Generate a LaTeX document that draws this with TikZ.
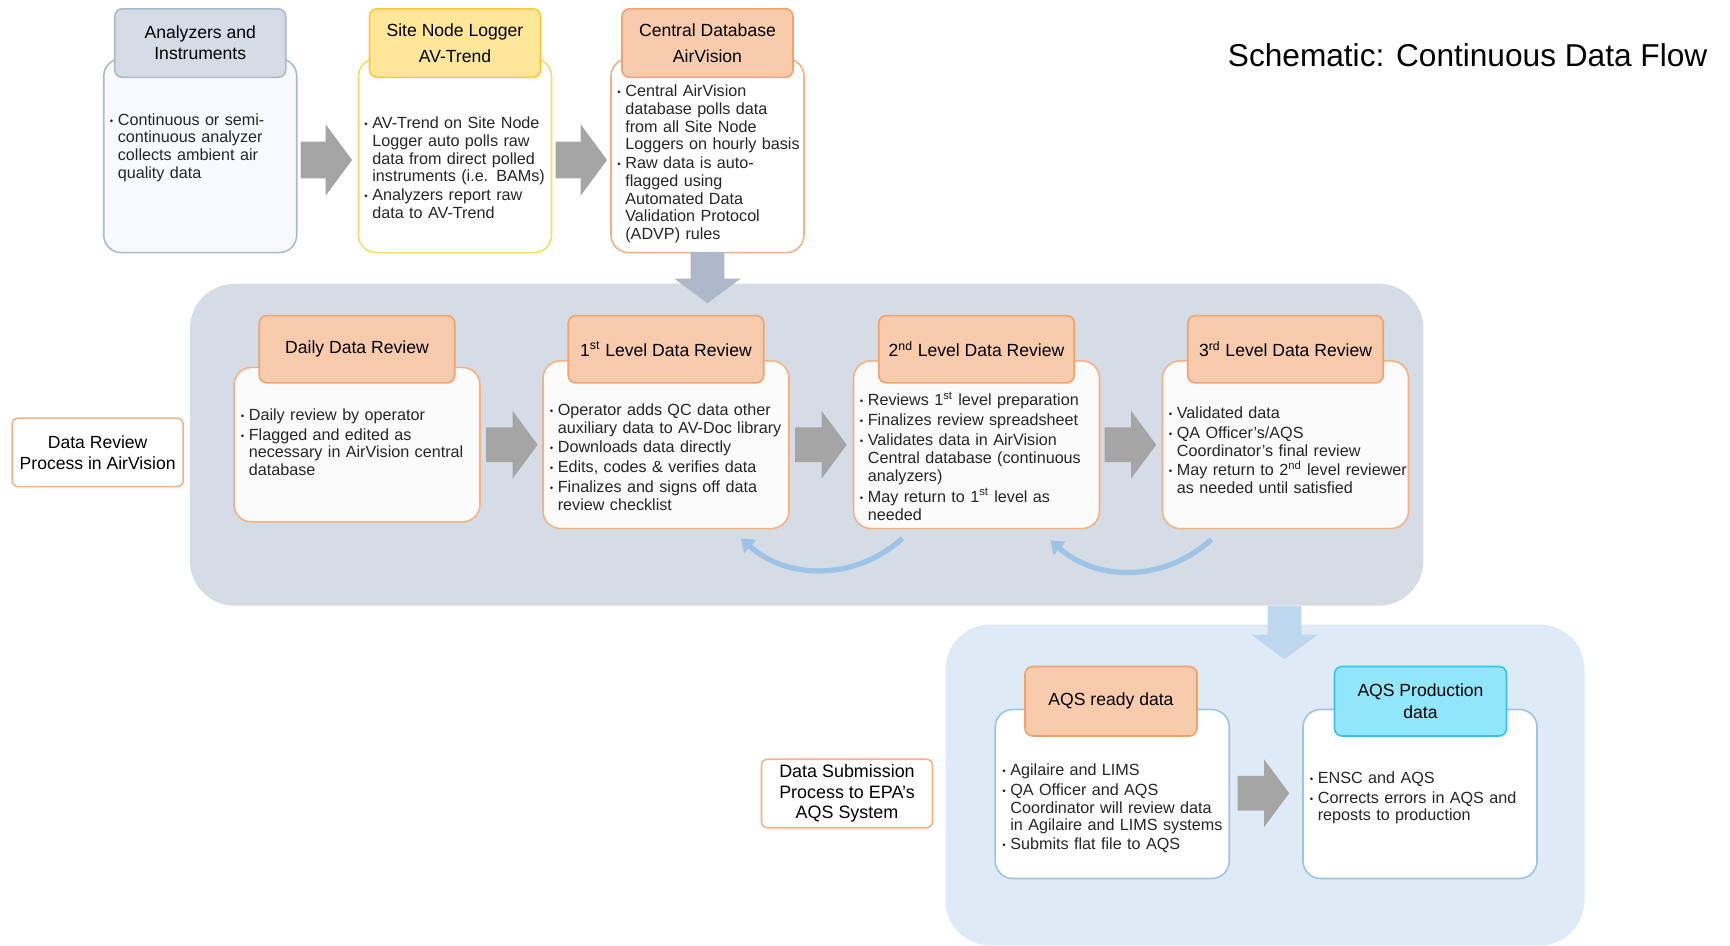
\documentclass[tikz,border=0pt]{standalone}
\usepackage{fontspec}
\setmainfont{Liberation Sans}
\usepackage{graphicx}
\usepackage{tikz}
\usetikzlibrary{positioning,arrows.meta,shapes.arrows,backgrounds}

\definecolor{bandgray}{HTML}{D6DCE5}
\definecolor{bandblue}{HTML}{DEEBF7}
\definecolor{arrgray}{HTML}{A5A5A5}
\definecolor{slate}{HTML}{ADB9CA}
\definecolor{skyblue}{HTML}{9DC3E6}
\definecolor{paleblue}{HTML}{BDD7EE}
\definecolor{peach}{HTML}{F8CBAD}
\definecolor{peachline}{HTML}{F4B183}
\definecolor{peachdark}{HTML}{F0A36F}
\definecolor{sand}{HTML}{FFE699}
\definecolor{sandline}{HTML}{FFD966}
\definecolor{sanddark}{HTML}{FFC83C}
\definecolor{aqua}{HTML}{92E6FB}
\definecolor{aqualine}{HTML}{33C3F0}
\definecolor{offwhite}{HTML}{FBFBFB}
\definecolor{icewhite}{HTML}{F7F9FC}

\newcommand{\bulmark}{\raisebox{0.15ex}{\scalebox{0.6}{\textbullet}}}
\newcommand{\bpoint}[1]{\par\noindent\makebox[0.16cm][l]{\bulmark}\parbox[t]{5.6cm}{\raggedright #1}}
\newcommand{\bodyfont}{\fontsize{9.2}{10}\selectfont\setlength{\parskip}{1.4pt}}

\begin{document}
\begin{tikzpicture}[
  font=\fontsize{10}{12}\selectfont,
  band/.style={rounded corners=0.9cm, inner sep=0pt},
  panel/.style={draw, line width=0.9pt, rounded corners=0.35cm, fill=white, inner sep=0pt},
  hdr/.style={draw, line width=0.9pt, rounded corners=0.15cm, align=center, inner sep=0pt},
  txt/.style={anchor=north west, inner sep=0pt, text width=6cm, align=left, font=\bodyfont, text=black!85},
  lbl/.style={draw=peachline, line width=0.9pt, rounded corners=0.12cm, fill=white, align=center,
              minimum width=3.42cm, minimum height=1.37cm, inner sep=0pt},
  blk/.style={single arrow, fill=arrgray, inner xsep=0pt, inner ysep=0.34cm,
              single arrow head extend=0.33cm, single arrow tip angle=107, minimum height=1.03cm},
  back/.style={-{Triangle[width=10pt,length=7pt]}, line width=3pt, draw=skyblue},
]
\useasboundingbox (0,0) rectangle (34.6,-18.9);

\node[panel, draw=slate, fill=icewhite, minimum width=3.86cm, minimum height=3.88cm] (anabody) at (4.005,-3.112) {};
\node[panel, draw=sandline, minimum width=3.86cm, minimum height=3.88cm] (sitebody) at (9.10,-3.112) {};
\node[panel, draw=peachline, minimum width=3.86cm, minimum height=3.88cm] (dbbody) at (14.15,-3.112) {};

\node[hdr, fill=bandgray, draw=slate, minimum width=3.42cm, minimum height=1.37cm] (anahdr) at (4.005,-0.861) {Analyzers and\\Instruments};
\node[hdr, fill=sand, draw=sanddark, minimum width=3.42cm, minimum height=1.37cm,
      font=\fontsize{10}{15}\selectfont] (sitehdr) at (9.10,-0.861) {Site Node Logger\\AV-Trend};
\node[hdr, fill=peach, draw=peachdark, minimum width=3.42cm, minimum height=1.37cm,
      font=\fontsize{10}{15}\selectfont] (dbhdr) at (14.15,-0.861) {Central Database\\AirVision};

\node[txt] (anatxt) at (2.19,-2.10) {\bpoint{Continuous or semi-\\continuous analyzer\\collects ambient air\\quality data}};
\node[txt] (sitetxt) at (7.28,-2.17) {\bpoint{AV-Trend on Site Node\\Logger auto polls raw\\data from direct polled\\instruments (i.e. BAMs)}
  \bpoint{Analyzers report raw\\data to AV-Trend}};
\node[txt] (dbtxt) at (12.34,-1.53) {\bpoint{Central AirVision\\database polls data\\from all Site Node\\Loggers on hourly basis}
  \bpoint{Raw data is auto-\\flagged using\\Automated Data\\Validation Protocol\\(ADVP) rules}};

\node[blk, inner ysep=0.36cm, single arrow head extend=0.35cm] (a1) at (6.39,-3.20) {};
\node[blk, inner ysep=0.36cm, single arrow head extend=0.35cm] (a2) at (11.49,-3.20) {};

\begin{scope}[on background layer]
  \node[band, fill=bandgray, minimum width=24.67cm, minimum height=6.44cm] (revband) at (16.133,-8.894) {};
  \node[band, fill=bandblue, minimum width=12.78cm, minimum height=6.42cm] (subband) at (25.30,-15.70) {};
\end{scope}

\node[blk, fill=slate, rotate=-90, minimum height=1.02cm, inner ysep=0.33cm] (d1) at (14.15,-5.43) {};

\node[lbl] (revlbl) at (1.953,-9.048) {Data Review\\Process in AirVision};

\node[panel, draw=peachline, fill=offwhite, minimum width=4.92cm, minimum height=3.09cm] (dailybody) at (7.14,-8.894) {};
\node[panel, draw=peachline, fill=offwhite, minimum width=4.92cm, minimum height=3.354cm] (l1body) at (13.32,-8.894) {};
\node[panel, draw=peachline, fill=offwhite, minimum width=4.92cm, minimum height=3.354cm] (l2body) at (19.53,-8.894) {};
\node[panel, draw=peachline, fill=offwhite, minimum width=4.92cm, minimum height=3.354cm] (l3body) at (25.71,-8.894) {};

\node[hdr, fill=peach, draw=peachdark, minimum width=3.91cm, minimum height=1.346cm] (dailyhdr) at (7.14,-6.985) {Daily Data Review};
\node[hdr, fill=peach, draw=peachdark, minimum width=3.91cm, minimum height=1.346cm] (l1hdr) at (13.32,-6.985) {1\textsuperscript{st} Level Data Review};
\node[hdr, fill=peach, draw=peachdark, minimum width=3.91cm, minimum height=1.346cm] (l2hdr) at (19.53,-6.985) {2\textsuperscript{nd} Level Data Review};
\node[hdr, fill=peach, draw=peachdark, minimum width=3.91cm, minimum height=1.346cm] (l3hdr) at (25.71,-6.985) {3\textsuperscript{rd} Level Data Review};

\node[txt] (dailytxt) at (4.81,-8.00) {\bpoint{Daily review by operator}
  \bpoint{Flagged and edited as\\necessary in AirVision central\\database}};
\node[txt] (l1txt) at (10.99,-7.91) {\bpoint{Operator adds QC data other\\auxiliary data to AV-Doc library}
  \bpoint{Downloads data directly}
  \bpoint{Edits, codes \& verifies data}
  \bpoint{Finalizes and signs off data\\review checklist}};
\node[txt] (l2txt) at (17.19,-7.71) {\bpoint{Reviews 1\textsuperscript{st} level preparation}
  \bpoint{Finalizes review spreadsheet}
  \bpoint{Validates data in AirVision\\Central database (continuous\\analyzers)}
  \bpoint{May return to 1\textsuperscript{st} level as\\needed}};
\node[txt] (l3txt) at (23.37,-7.97) {\bpoint{Validated data}
  \bpoint{QA Officer's/AQS\\Coordinator's final review}
  \bpoint{May return to 2\textsuperscript{nd} level reviewer\\as needed until satisfied}};

\node[blk] (m1) at (10.11,-8.895) {};
\node[blk] (m2) at (16.29,-8.895) {};
\node[blk] (m3) at (22.48,-8.895) {};

\draw[back] ([xshift=-1.48cm,yshift=-0.18cm]l2body.south) to[bend left=42] ([xshift=1.5cm,yshift=-0.18cm]l1body.south);
\draw[back] ([xshift=-1.48cm,yshift=-0.2cm]l3body.south) to[bend left=42] ([xshift=1.48cm,yshift=-0.22cm]l2body.south);

\node[blk, fill=paleblue, rotate=-90, minimum height=1.06cm, inner ysep=0.33cm] (d2) at (25.69,-12.53) {};

\node[lbl, font=\fontsize{10.2}{11.5}\selectfont] (sublbl) at (16.94,-15.87) {Data Submission\\Process to EPA's\\AQS System};

\node[panel, draw=skyblue, minimum width=4.68cm, minimum height=3.38cm] (aqsbody) at (22.245,-15.88) {};
\node[panel, draw=skyblue, minimum width=4.68cm, minimum height=3.38cm] (prodbody) at (28.40,-15.88) {};

\node[hdr, fill=peach, draw=peachdark, minimum width=3.44cm, minimum height=1.39cm] (aqshdr) at (22.22,-14.025) {AQS ready data};
\node[hdr, fill=aqua, draw=aqualine, minimum width=3.44cm, minimum height=1.39cm] (prodhdr) at (28.41,-14.025) {AQS Production\\data};

\node[txt] (aqstxt) at (20.04,-15.10) {\bpoint{Agilaire and LIMS}
  \bpoint{QA Officer and AQS\\Coordinator will review data\\in Agilaire and LIMS systems}
  \bpoint{Submits flat file to AQS}};
\node[txt] (prodtxt) at (26.19,-15.26) {\bpoint{ENSC and AQS}
  \bpoint{Corrects errors in AQS and\\reposts to production}};

\node[blk] (b1) at (25.14,-15.865) {};

\node[anchor=east, font=\fontsize{18}{20}\selectfont] (title) at (34.27,-1.10) {Schematic: Continuous Data Flow};
\end{tikzpicture}
\end{document}
